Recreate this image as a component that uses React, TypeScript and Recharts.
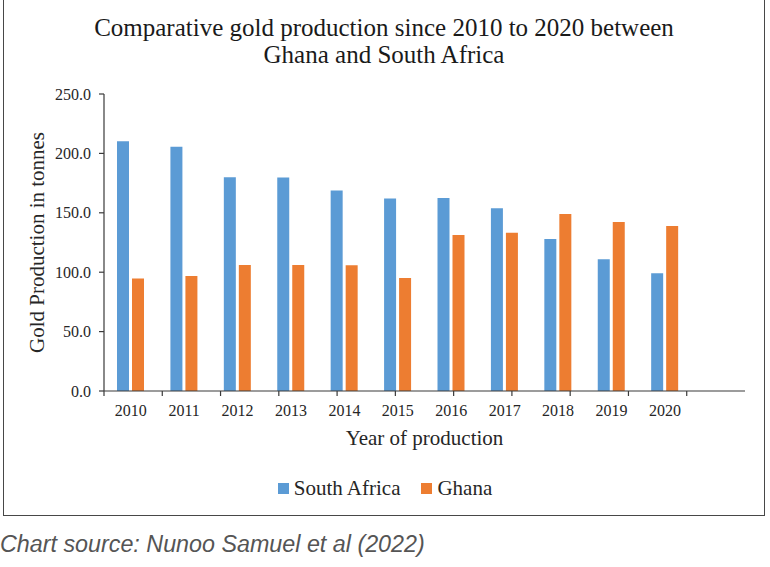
import React from 'react';
import { BarChart, Bar, XAxis, YAxis, Legend, Label } from 'recharts';

const years = ['2010', '2011', '2012', '2013', '2014', '2015', '2016', '2017', '2018', '2019', '2020', ''];
const southAfrica = [210.3, 205.6, 180, 179.8, 168.7, 162, 162.4, 153.8, 128, 111, 99.2, null];
const ghana = [94.8, 96.8, 106, 106, 105.9, 95.2, 131.3, 133.2, 149, 142.2, 138.8, null];
const seriesNames = ['South Africa', 'Ghana'];
const yTicks = [0, 50, 100, 150, 200, 250];
const boundaryTicks = [0, 1, 2, 3, 4, 5, 6, 7, 8, 9, 10, 11, 12];

const data = years.map((y, i) => ({
  year: y,
  sa: southAfrica[i],
  gh: ghana[i],
}));

const SERIF = '"Liberation Serif", "Times New Roman", serif';
const TEXT = '#262626';
const AXIS = '#3a3a3a';

const LegendContent = (props: any) => {
  const payload = [...(props.payload || [])].sort(
    (a: any, b: any) => seriesNames.indexOf(a.value) - seriesNames.indexOf(b.value)
  );
  return (
    <div style={{ display: 'flex', justifyContent: 'center', alignItems: 'center', fontFamily: SERIF, fontSize: 21, color: TEXT }}>
      {payload.map((p: any, i: number) => (
        <div key={i} style={{ display: 'flex', alignItems: 'center', marginLeft: i === 0 ? 0 : 21 }}>
          <span style={{ display: 'inline-block', width: 11, height: 11, background: p.color, marginRight: 5 }} />
          <span>{p.value}</span>
        </div>
      ))}
    </div>
  );
};

const EmptyTick = () => <g />;

export default function App() {
  return (
    <div style={{ position: 'absolute', left: 0, top: 0, width: 770, height: 567, background: '#fff', overflow: 'hidden' }}>
      <div style={{ position: 'absolute', left: 3, top: -1, width: 762, height: 517, border: '1.5px solid #474747', boxSizing: 'border-box' }} />
      <div style={{ position: 'absolute', left: 0, top: 0, width: 770, height: 515 }}>
        <BarChart
          width={770}
          height={515}
          data={data}
          margin={{ top: 94, right: 25, left: 0, bottom: 122 }}
          barSize={12}
          barGap={3}
        >
          <XAxis
            xAxisId="bounds"
            type="number"
            domain={[0, 12]}
            ticks={boundaryTicks}
            allowDataOverflow
            height={1}
            tick={<EmptyTick />}
            tickSize={5}
            stroke={AXIS}
            axisLine={{ stroke: AXIS, strokeWidth: 1.2 }}
            tickLine={{ stroke: AXIS, strokeWidth: 1.2 }}
          />
          <XAxis
            xAxisId="cat"
            dataKey="year"
            height={1}
            axisLine={false}
            tickLine={false}
            tickSize={5}
            tickMargin={8}
            interval={0}
            tick={{ fontSize: 16, fontFamily: SERIF, fill: TEXT }}
          >
            <Label
              content={(props: any) => {
                const vb = props.viewBox || {};
                const cx = vb.x + vb.width / 2;
                const cy = vb.y + 46;
                return (
                  <text x={cx} y={cy} textAnchor="middle" dominantBaseline="central" fontSize={21} fontFamily={SERIF} fill={TEXT}>
                    Year of production
                  </text>
                );
              }}
            />
          </XAxis>
          <YAxis
            width={104}
            domain={[0, 250]}
            ticks={yTicks}
            interval={0}
            tickFormatter={(v: number) => v.toFixed(1)}
            tickSize={5}
            tickMargin={8}
            axisLine={{ stroke: AXIS, strokeWidth: 1.2 }}
            tickLine={{ stroke: AXIS, strokeWidth: 1.2 }}
            tick={{ fontSize: 16, fontFamily: SERIF, fill: TEXT }}
          >
            <Label
              content={(props: any) => {
                const vb = props.viewBox || {};
                const cx = vb.x + 37;
                const cy = vb.y + vb.height / 2;
                return (
                  <text
                    x={cx}
                    y={cy}
                    transform={`rotate(-90 ${cx} ${cy})`}
                    textAnchor="middle"
                    dominantBaseline="central"
                    fontSize={21}
                    fontFamily={SERIF}
                    fill={TEXT}
                  >
                    Gold Production in tonnes
                  </text>
                );
              }}
            />
          </YAxis>
          <Legend
            layout="horizontal"
            verticalAlign="middle"
            align="center"
            wrapperStyle={{ top: 476, left: 0, width: 770 }}
            content={<LegendContent />}
          />
          <Bar xAxisId="cat" dataKey="sa" name="South Africa" fill="#5B9BD5" isAnimationActive={false} />
          <Bar xAxisId="cat" dataKey="gh" name="Ghana" fill="#ED7D31" isAnimationActive={false} />
        </BarChart>
      </div>
      <div
        style={{
          position: 'absolute',
          left: 0,
          top: 14,
          width: 768,
          textAlign: 'center',
          fontFamily: SERIF,
          fontSize: 25,
          lineHeight: '27px',
          color: '#1a1a1a',
        }}
      >
        <div>Comparative gold production since 2010 to 2020 between</div>
        <div>Ghana and South Africa</div>
      </div>
      <div
        style={{
          position: 'absolute',
          left: 0,
          top: 530,
          fontFamily: '"Liberation Sans", Arial, sans-serif',
          fontStyle: 'italic',
          fontSize: 23.3,
          lineHeight: '28px',
          color: '#555',
          whiteSpace: 'nowrap',
        }}
      >
        Chart source: Nunoo Samuel et al (2022)
      </div>
    </div>
  );
}
